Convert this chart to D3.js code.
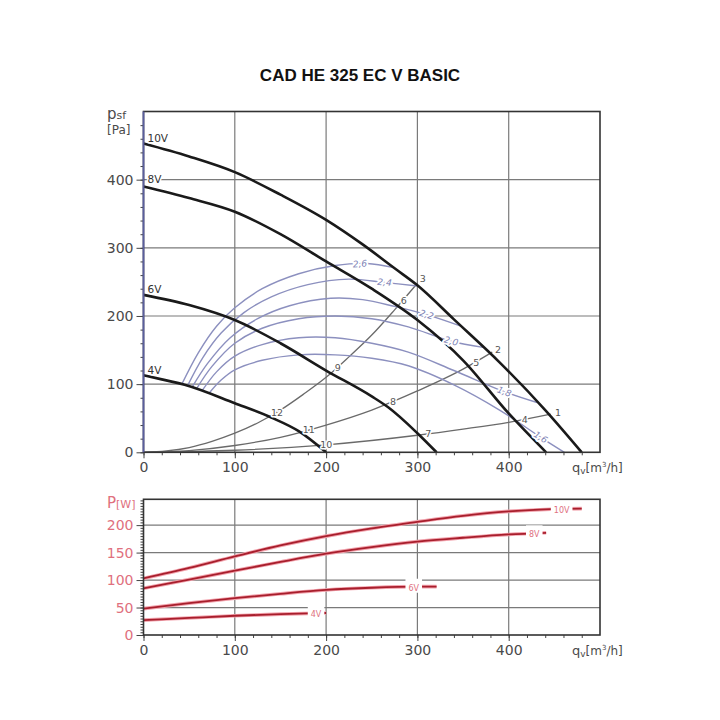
<!DOCTYPE html>
<html>
<head>
<meta charset="utf-8">
<script src="https://cdn.jsdelivr.net/npm/d3@7"></script>
<style>
body { margin: 0; background: #fff; }
</style>
</head>
<body>
<div id="canvas"></div>
<script>
// DATA ========================================================================

var TITLE = "CAD HE 325 EC V BASIC"

var SPEEDS = ["10V", "8V", "6V", "4V"]

// Fan curves, static pressure [Pa] over airflow [m3/h].
var FAN_10V = [[0,453],[50,434],[100,411],[150,378],[200,341],[240,305],[275,270],[300,245],[340,195],[390,132],[440,62],[480,0]]
var FAN_8V = [[0,390],[50,373],[100,353],[150,320],[200,280],[250,240],[300,194],[350,135],[400,57],[441,0]]
var FAN_6V = [[0,231],[50,216],[100,194],[150,160],[200,120],[250,82],[268,66],[300,28],[321,0]]
var FAN_4V = [[0,113],[20,107],[45,99],[100,72],[140,51],[170,31],[200,0]]

// System curves (grey) and their operating point numbers (4V, 6V, 8V, 10V).
var SYS_STEEP = [[0,0],[25,2],[50,7],[75,16],[100,28],[125,43],[150,62],[175,85],[200,110],[225,140],[250,172],[275,209],[300,248]]
var SYS_MID = [[0,0],[50,2.5],[100,10],[150,22],[200,40],[250,62],[300,90],[350,122],[382,147]]
var SYS_FLAT = [[0,0],[100,3],[200,11],[300,25],[350,34],[400,44],[446,56]]
var SYS_LABELS = [["12","9","6","3"], ["11","8","5","2"], ["10","7","4","1"]]

// Purple iso-lines and where their labels sit (airflow).
var ISO_26 = [[42,100],[60,146],[80,185],[100,212],[130,240],[170,262],[210,274],[245,277],[274,271]]
var ISO_24 = [[48,97],[65,139],[85,175],[110,205],[140,228],[180,246],[225,254],[265,249],[300,244]]
var ISO_22 = [[53,95],[70,130],[95,168],[125,196],[160,215],[205,226],[240,224],[275,214],[310,202],[350,184]]
var ISO_20 = [[58,93],[75,126],[100,160],[130,182],[170,196],[210,200],[250,196],[290,184],[337,163],[372,154]]
var ISO_18 = [[64,90],[80,118],[100,141],[130,158],[170,168],[210,168],[250,160],[290,147],[340,120],[395,89],[431,73]]
var ISO_16 = [[72,87],[85,106],[100,121],[130,135],[170,143],[210,143],[250,138],[290,127],[340,99],[390,62],[435,22],[461,0]]
var ISO_NAMES = ["2,6", "2,4", "2,2", "2,0", "1,8", "1,6"]
var ISO_LABEL_AT = [237, 264, 310, 337, 395, 435]

// Power curves [W].
var POWER_10V = [[0,103],[50,122],[100,143],[150,163],[200,180],[250,194],[300,206],[350,217],[400,225],[446,229],[480,230]]
var POWER_8V = [[0,85],[50,101],[100,117],[150,133],[200,148],[250,160],[300,170],[350,177],[400,183],[441,186]]
var POWER_6V = [[0,48],[50,58],[100,67],[150,75],[200,82],[250,86],[300,88],[321,88]]
var POWER_4V = [[0,27],[50,31],[100,35],[150,38],[200,40]]
var POWER_LABEL_AT = [458, 428, 296, 189]

var X_TICKS = [0, 100, 200, 300, 400]
var P_TICKS = [0, 100, 200, 300, 400]
var W_TICKS = [0, 50, 100, 150, 200]

// STYLE =======================================================================

var FONT = "'DejaVu Sans', sans-serif"
var GRID = "#7a7a7a"
var INK = "#4a4a4a"
var PINK = "#e0707e"
var ISO = "#8c90bf"

var FANS = [FAN_10V, FAN_8V, FAN_6V, FAN_4V]
var SYSTEMS = [SYS_STEEP, SYS_MID, SYS_FLAT]
var ISOS = [ISO_26, ISO_24, ISO_22, ISO_20, ISO_18, ISO_16]
var POWERS = [POWER_10V, POWER_8V, POWER_6V, POWER_4V]

var X = d3.scaleLinear().domain([0, 500]).range([143.5, 600])
var YP = d3.scaleLinear().domain([0, 500]).range([452.3, 111.5])
var YW = d3.scaleLinear().domain([0, 247]).range([635, 499.3])

// HELPERS =====================================================================

function interp(pts, x) {
    let n = pts.length
    for (let i = 0; i < n - 1; i++) {
        let a = pts[i], b = pts[i + 1]
        if (x >= a[0] && x <= b[0]) { return a[1] + (b[1] - a[1])*(x - a[0])/(b[0] - a[0]) }
    }
    if (x > pts[n - 1][0]) {
        let a = pts[n - 2], b = pts[n - 1]
        return b[1] + (b[1] - a[1])*(x - b[0])/(b[0] - a[0])
    }
    return NaN
}

function intersect(s, f) {
    let prev = null
    for (let x = 1; x <= s[s.length - 1][0]; x += 0.25) {
        let d = interp(s, x) - interp(f, x)
        if (isNaN(d)) { continue }
        if (prev !== null && prev < 0 && d >= 0) { return x }
        prev = d
    }
    return s[s.length - 1][0]
}

function halo(t, w) {
    return t.attr("stroke", "#fff").attr("stroke-width", w).attr("paint-order", "stroke").attr("stroke-linejoin", "round")
}

function grid(g, y, xs, ys) {
    g.selectAll(".gx").data(xs).enter().append("line")
        .attr("x1", d => X(d)).attr("x2", d => X(d))
        .attr("y1", y.range()[0]).attr("y2", y.range()[1])
        .attr("stroke", GRID).attr("stroke-width", 1.2)
    g.selectAll(".gy").data(ys).enter().append("line")
        .attr("x1", X(0)).attr("x2", X(500))
        .attr("y1", d => y(d)).attr("y2", d => y(d))
        .attr("stroke", GRID).attr("stroke-width", 1.2)
}

function axes(g, y, yMinor, yTicks, yColor) {
    let base = y.range()[0]

    g.append("g").attr("transform", "translate(0," + base + ")")
        .call(d3.axisBottom(X).tickValues(d3.range(0, 500, 20)).tickSize(3).tickFormat(""))
    g.append("g").attr("transform", "translate(0," + base + ")")
        .call(d3.axisBottom(X).tickValues(X_TICKS).tickSize(6).tickPadding(4))
        .selectAll("text").attr("font-size", 14).attr("font-family", FONT).attr("fill", INK)

    g.append("g").attr("transform", "translate(" + X(0) + ",0)")
        .call(d3.axisLeft(y).tickValues(yMinor).tickSize(3).tickFormat(""))
    g.append("g").attr("transform", "translate(" + X(0) + ",0)")
        .call(d3.axisLeft(y).tickValues(yTicks).tickSize(7).tickPadding(3))
        .selectAll("text").attr("font-size", 14).attr("font-family", FONT).attr("fill", yColor)

    g.selectAll(".domain").remove()
    g.selectAll(".tick line").attr("stroke", "#444")

    g.append("rect")
        .attr("x", X(0)).attr("y", y.range()[1])
        .attr("width", X(500) - X(0)).attr("height", base - y.range()[1])
        .attr("fill", "none").attr("stroke", "#333").attr("stroke-width", 1.6)

    // Airflow unit.
    let q = g.append("text").attr("x", 572).attr("y", base + 20)
        .attr("font-family", FONT).attr("fill", INK).attr("font-size", 13)
    q.append("tspan").text("q")
    q.append("tspan").attr("font-size", 9).attr("dy", 2).text("v")
    q.append("tspan").attr("font-size", 12).attr("dy", -2).text("[m")
    q.append("tspan").attr("font-size", 7).attr("dy", -5).text("3")
    q.append("tspan").attr("font-size", 12).attr("dy", 5).text("/h]")
}

// CHART =======================================================================

var SVG = d3.select("#canvas").append("svg").attr("width", 720).attr("height", 720)

SVG.append("text")
    .text(TITLE)
    .attr("x", 360).attr("y", 81)
    .attr("text-anchor", "middle")
    .attr("font-family", "'Liberation Sans', Arial, sans-serif")
    .attr("font-weight", "bold")
    .attr("font-size", 17)
    .attr("fill", "#111")

// Pressure panel --------------------------------------------------------------

var panelP = SVG.append("g")
grid(panelP, YP, [100, 200, 300, 400], [100, 200, 300, 400])

var lineP = d3.line().x(d => X(d[0])).y(d => YP(d[1])).curve(d3.curveMonotoneX)
var lineIso = d3.line().x(d => X(d[0])).y(d => YP(d[1])).curve(d3.curveCatmullRom.alpha(0.5))

panelP.selectAll(".sys").data(SYSTEMS).enter().append("path")
    .attr("d", lineP).attr("fill", "none")
    .attr("stroke", "#6a6a6a").attr("stroke-width", 1.3)

panelP.selectAll(".iso").data(ISOS).enter().append("path")
    .attr("d", lineIso).attr("fill", "none")
    .attr("stroke", ISO).attr("stroke-width", 1.4)

panelP.selectAll(".fan").data(FANS).enter().append("path")
    .attr("d", lineP).attr("fill", "none")
    .attr("stroke", "#1a1a1a").attr("stroke-width", 2.6)

axes(panelP, YP, d3.range(0, 500, 20), P_TICKS, INK)

// Left axis line carries a blue tint in the original.
panelP.append("line")
    .attr("x1", X(0)).attr("x2", X(0)).attr("y1", YP(0)).attr("y2", YP(500))
    .attr("stroke", "#5a5e9e").attr("stroke-width", 1.8)

// Speed labels at curve starts.
FANS.forEach(function(f, i) {
    halo(panelP.append("text"), 3)
        .text(SPEEDS[i])
        .attr("x", X(0) + 4).attr("y", YP(f[0][1]) - (i == 1 ? 3 : 1.5))
        .attr("font-family", FONT).attr("font-size", 10.5).attr("fill", "#333")
})

// Operating point numbers along the system curves.
SYSTEMS.forEach(function(s, i) {
    FANS.slice().reverse().forEach(function(f, j) {
        let xi = intersect(s, f)
        let p0 = [X(xi), YP(interp(s, xi))]
        let p1 = [X(xi + 1), YP(interp(s, xi + 1))]
        let len = Math.hypot(p1[0] - p0[0], p1[1] - p0[1])
        let px = p0[0] + 8*(p1[0] - p0[0])/len
        let py = p0[1] + 8*(p1[1] - p0[1])/len
        halo(panelP.append("text"), 3)
            .text(SYS_LABELS[i][j])
            .attr("x", px + 1).attr("y", py)
            .attr("text-anchor", "middle").attr("dominant-baseline", "central")
            .attr("font-family", FONT).attr("font-size", 9.5).attr("fill", "#555")
    })
})

// Iso-line labels, turned with the curve.
ISOS.forEach(function(c, i) {
    let x0 = ISO_LABEL_AT[i]
    let a = [X(x0 - 4), YP(interp(c, x0 - 4))]
    let b = [X(x0 + 4), YP(interp(c, x0 + 4))]
    let angle = Math.atan2(b[1] - a[1], b[0] - a[0])*180/Math.PI
    halo(panelP.append("text"), 3.5)
        .text(ISO_NAMES[i])
        .attr("transform", "translate(" + X(x0) + "," + YP(interp(c, x0)) + ") rotate(" + angle + ")")
        .attr("text-anchor", "middle").attr("dominant-baseline", "central")
        .attr("font-family", FONT).attr("font-size", 9).attr("font-style", "italic")
        .attr("fill", "#7d82b5")
})

// Axis title.
var ps = panelP.append("text").attr("x", 107).attr("y", 119).attr("font-family", FONT).attr("fill", INK)
ps.append("tspan").attr("font-size", 15).text("p")
ps.append("tspan").attr("font-size", 11).text("sf")
panelP.append("text").attr("x", 107).attr("y", 134).text("[Pa]")
    .attr("font-family", FONT).attr("font-size", 12).attr("fill", INK)

// Power panel -----------------------------------------------------------------

var panelW = SVG.append("g")
grid(panelW, YW, [100, 200, 300, 400], [50, 100, 150, 200])

var lineW = d3.line().x(d => X(d[0])).y(d => YW(d[1])).curve(d3.curveMonotoneX)

panelW.selectAll(".glow").data(POWERS).enter().append("path")
    .attr("d", lineW).attr("fill", "none")
    .attr("stroke", "#f2a3ad").attr("stroke-width", 3.6)
panelW.selectAll(".pw").data(POWERS).enter().append("path")
    .attr("d", lineW).attr("fill", "none")
    .attr("stroke", "#a81e2c").attr("stroke-width", 1.8)

POWERS.forEach(function(c, i) {
    let cx = X(POWER_LABEL_AT[i])
    let cy = YW(interp(c, POWER_LABEL_AT[i]))
    let r = panelW.append("rect").attr("fill", "#fff")
    let t = panelW.append("text")
        .text(SPEEDS[i])
        .attr("x", cx).attr("y", cy + 4)
        .attr("text-anchor", "middle")
        .attr("font-family", FONT).attr("font-size", 8).attr("fill", PINK)
    let w = t.node().getComputedTextLength() + 6
    r.attr("x", cx - w/2).attr("y", cy - 8).attr("width", w).attr("height", 14)
})

axes(panelW, YW, d3.range(0, 247, 5), W_TICKS, PINK)

var pw = panelW.append("text").attr("x", 107).attr("y", 508).attr("font-family", FONT).attr("fill", PINK)
pw.append("tspan").attr("font-size", 15).text("P")
pw.append("tspan").attr("font-size", 11).text("[W]")
</script>
</body>
</html>
